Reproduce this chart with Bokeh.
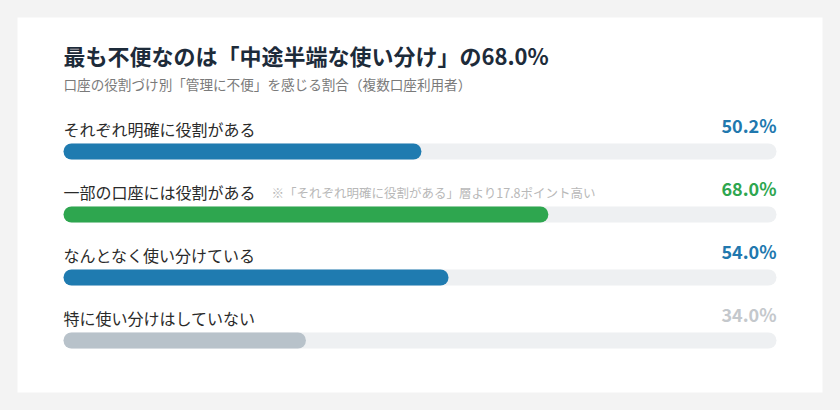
import re
from bokeh.plotting import figure
from bokeh.models import Range1d, ColumnDataSource
from bokeh.core.properties import value
from bokeh.embed import file_html
from bokeh.resources import INLINE

# ---- data ----
categories = ["それぞれ明確に役割がある", "一部の口座には役割がある", "なんとなく使い分けている", "特に使い分けはしていない"]
values = [50.2, 68.0, 54.0, 34.0]
bar_colors = ["#1f7bb0", "#2ea64f", "#1f7bb0", "#b8c2ca"]
value_colors = ["#2178ae", "#2ea64f", "#2178ae", "#c4c8cc"]
title_text = "最も不便なのは「中途半端な使い分け」の68.0%"
subtitle_text = "口座の役割づけ別「管理に不便」を感じる割合（複数口座利用者）"
note_text = "※「それぞれ明確に役割がある」層より17.8ポイント高い"
note_row = 1

# ---- layout constants ----
FIG_W, FIG_H = 824, 394
CARD_L, CARD_T, CARD_R, CARD_B = 17, 17, 2, 2      # gray border around the white card
CARD_W = FIG_W - CARD_L - CARD_R
CARD_H = FIG_H - CARD_T - CARD_B
TRACK_L, TRACK_R = 46, 46                          # track inset inside card
TRACK_W = CARD_W - TRACK_L - TRACK_R
PX_PER_UNIT = TRACK_W / 100.0
ROW0_PX, ROW_STEP = 134, 63
BAR_PX = 16
FONT = "Noto Sans CJK JP"

rows = list(range(len(categories)))
labels_txt = [f"{v:.1f}%" for v in values]

src = ColumnDataSource(dict(y=rows, cat=categories, val=values, col=bar_colors,
                            vcol=value_colors, vtxt=labels_txt,
                            zero=[0] * len(rows), full=[100] * len(rows)))

p = figure(width=FIG_W, height=FIG_H, output_backend="svg", toolbar_location=None,
           x_range=Range1d(-TRACK_L / PX_PER_UNIT, 100 + TRACK_R / PX_PER_UNIT),
           y_range=Range1d((CARD_H - ROW0_PX) / ROW_STEP, -ROW0_PX / ROW_STEP),
           x_axis_location=None, y_axis_location=None,
           min_border_left=CARD_L, min_border_right=CARD_R,
           min_border_top=CARD_T, min_border_bottom=CARD_B)
p.grid.visible = False
p.outline_line_color = None
p.background_fill_color = "white"
p.border_fill_color = "#f3f3f3"

bh = BAR_PX / ROW_STEP
p.hbar(y="y", left="zero", right="full", height=bh, source=src,
       fill_color="#eef0f2", line_color=None, border_radius=8)
p.hbar(y="y", left="zero", right="val", height=bh, source=src,
       fill_color="col", line_color=None, border_radius=8)

p.text(x="zero", y="y", text="cat", source=src, y_offset=-23,
       text_font=value(FONT), text_font_size="16px", text_color="#2a2a2a",
       text_align="left", text_baseline="middle")
p.text(x="full", y="y", text="vtxt", source=src, y_offset=-27,
       text_font=value(FONT), text_font_size="18px", text_font_style="bold",
       text_color="vcol", text_align="right", text_baseline="middle")

p.text(x=[0], y=[rows[note_row]], text=[note_text], x_offset=208, y_offset=-22,
       text_font=value(FONT), text_font_size="12.5px", text_color="#b8b8b8",
       text_align="left", text_baseline="middle")

p.text(x=[0], y=[0], text=[title_text], y_offset=-97,
       text_font=value(FONT), text_font_size="22px", text_font_style="bold",
       text_color="#1d2b3a", text_align="left", text_baseline="middle")
p.text(x=[0], y=[0], text=[subtitle_text], y_offset=-68,
       text_font=value(FONT), text_font_size="13.6px", text_color="#7a7a7a",
       text_align="left", text_baseline="middle")

html = file_html(p, INLINE)
style = "<style>html{background:#f3f3f3;} body{background:#f3f3f3;}</style>"
html, n = re.subn(r"(<head[^>]*>)", r"\1" + style, html, count=1)
if n == 0:
    html = style + html
open("out.html", "w").write(html)
